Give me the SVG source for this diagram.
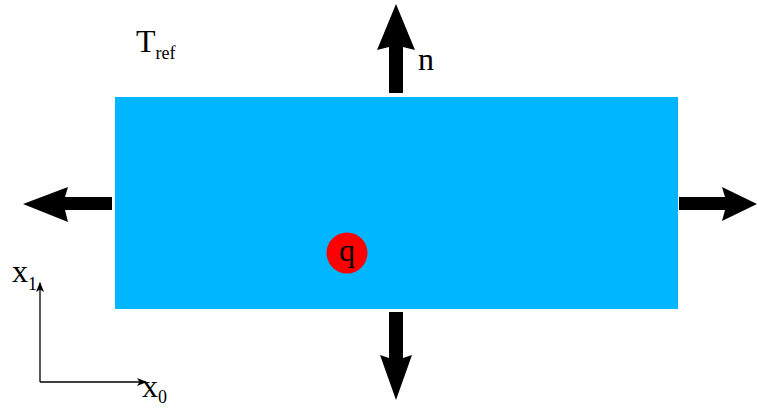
<svg xmlns="http://www.w3.org/2000/svg" width="757" height="408" viewBox="0 0 757 408">
<style>
.t{font-family:"Liberation Serif","Times New Roman",serif;fill:#000;font-size:32px}
.s{font-size:18px}
.big{fill:#000}
.ax{stroke:#000;stroke-width:1.3;fill:none}
</style>
<defs>
<marker id="ah" markerWidth="10" markerHeight="8" refX="9" refY="4" orient="auto" markerUnits="userSpaceOnUse">
<path d="M0,0 L10,4 L0,8 L2.5,4 Z" fill="#000"/>
</marker>
</defs>
<rect width="757" height="408" fill="#fff"/>
<g id="domain"><rect x="115" y="97" width="563" height="212" fill="#00B7FF"/></g>
<g id="source"><circle cx="347" cy="253" r="20.5" fill="#FF0000"/><text class="t" x="347" y="261" text-anchor="middle">q</text></g>
<g id="connectors">
<path class="big" d="M389,93 L389,47 L377,50 L396,4 L415,50 L403,47 L403,93 Z"/>
<path class="big" d="M112,197 L65,197 L68,187 L23,204 L68,222 L65,210 L112,210 Z"/>
<path class="big" d="M679,197 L725,197 L722,187 L757,204 L722,221 L725,210 L679,210 Z"/>
<path class="big" d="M389,312 L389,358 L380,355 L396,400 L412,355 L403,358 L403,312 Z"/>
<line class="ax" x1="40" y1="382" x2="40" y2="283" marker-end="url(#ah)"/>
<line class="ax" x1="40" y1="382" x2="146" y2="382" marker-end="url(#ah)"/>
</g>
<g id="labels">
<text class="t" x="136" y="52">T<tspan class="s" dy="7">ref</tspan></text>
<text class="t" x="418" y="70">n</text>
<text class="t" x="12" y="282">x<tspan class="s" dy="8">1</tspan></text>
<text class="t" x="142" y="397">x<tspan class="s" dy="6">0</tspan></text>
</g>
</svg>
